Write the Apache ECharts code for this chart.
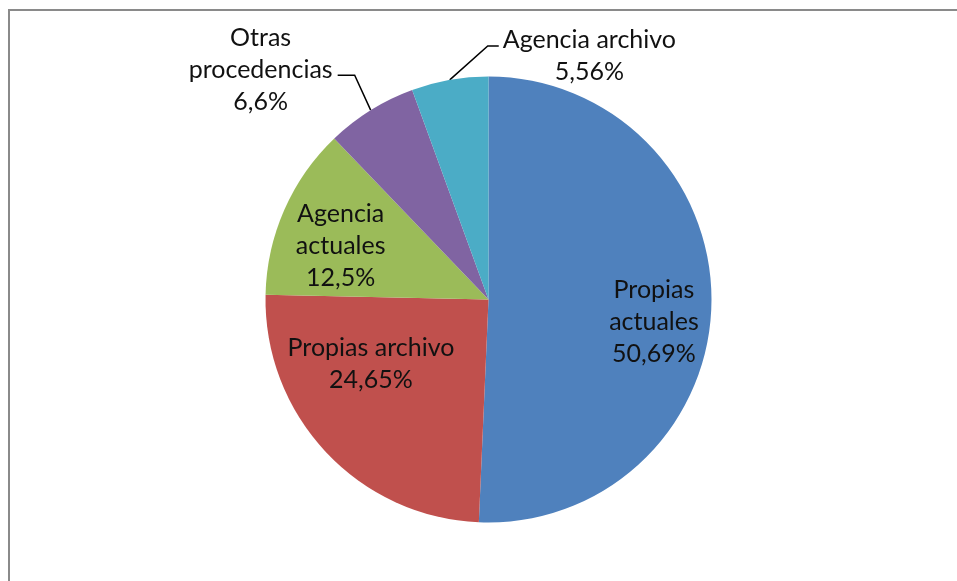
<!DOCTYPE html>
<html>
<head>
<meta charset="utf-8">
<script src="https://cdn.jsdelivr.net/npm/echarts@6/dist/echarts.min.js"></script>
<style>
html, body { margin: 0; padding: 0; background: #fff; }
#pie-chart { width: 957px; height: 581px; }
</style>
</head>
<body>
<div id="pie-chart"></div>
<script>
// slices, clockwise from 12 o'clock
const categories = ['Propias actuales', 'Propias archivo', 'Agencia actuales', 'Otras procedencias', 'Agencia archivo']
const shares = [50.69, 24.65, 12.5, 6.6, 5.56]
// how each name is broken on the chart
const labelNames = ['Propias\nactuales', 'Propias archivo', 'Agencia\nactuales', 'Otras\nprocedencias', 'Agencia archivo']

const colors = ['#4F81BD', '#C0504D', '#9BBB59', '#8064A2', '#4BACC6']
// nudges for the inside labels (Excel puts them a bit off the mid-angle)
const insideShift = [[51, 20], [-34, -14], [-43, -7]]

let myChart = echarts.init(document.getElementById('pie-chart'))

let seriesData = categories.map(function (name, i) {
  let inside = i < 3
  return {
    name: name,
    value: shares[i],
    itemStyle: { color: colors[i] },
    label: { position: inside ? 'inside' : 'outside' },
    labelLine: { show: !inside }
  }
})

myChart.setOption({
  animation: false,
  graphic: [
    {
      type: 'rect',
      shape: { x: 9, y: 10, width: 1200, height: 800 },
      style: { fill: 'none', stroke: '#8a8a8a', lineWidth: 2 },
      silent: true
    }
  ],
  series: [
    {
      name: 'procedencia',
      type: 'pie',
      center: [488.5, 299.5],
      radius: 223,
      startAngle: 90,
      clockwise: true,
      avoidLabelOverlap: false,
      emphasis: { disabled: true },
      label: {
        show: true,
        color: '#111',
        fontFamily: 'Lato',
        fontSize: 25,
        lineHeight: 32,
        formatter: function (p) {
          let txt = labelNames[p.dataIndex] + '\n' + String(p.value).replace('.', ',') + '%'
          return txt.split('\n').map(function (s) { return '{c|' + s + '}' }).join('\n')
        },
        rich: {
          c: { align: 'center', color: '#111', fontFamily: 'Lato', fontSize: 25, lineHeight: 32 }
        }
      },
      labelLine: {
        lineStyle: { color: '#000', width: 1.5 }
      },
      labelLayout: function (params) {
        let i = params.dataIndex
        if (i < 3) {
          return { dx: insideShift[i][0], dy: insideShift[i][1] }
        }
        let p = params.labelLinePoints[0]
        if (i === 3) {
          return {
            x: p[0] - 38,
            y: p[1] - 40,
            align: 'right',
            verticalAlign: 'middle',
            labelLinePoints: [p, [p[0] - 16, p[1] - 35], [p[0] - 33, p[1] - 35]]
          }
        }
        return {
          x: p[0] + 53,
          y: p[1] - 24,
          align: 'left',
          verticalAlign: 'middle',
          labelLinePoints: [p, [p[0] + 38, p[1] - 34], [p[0] + 49, p[1] - 34]]
        }
      },
      data: seriesData
    }
  ]
})
</script>
</body>
</html>
